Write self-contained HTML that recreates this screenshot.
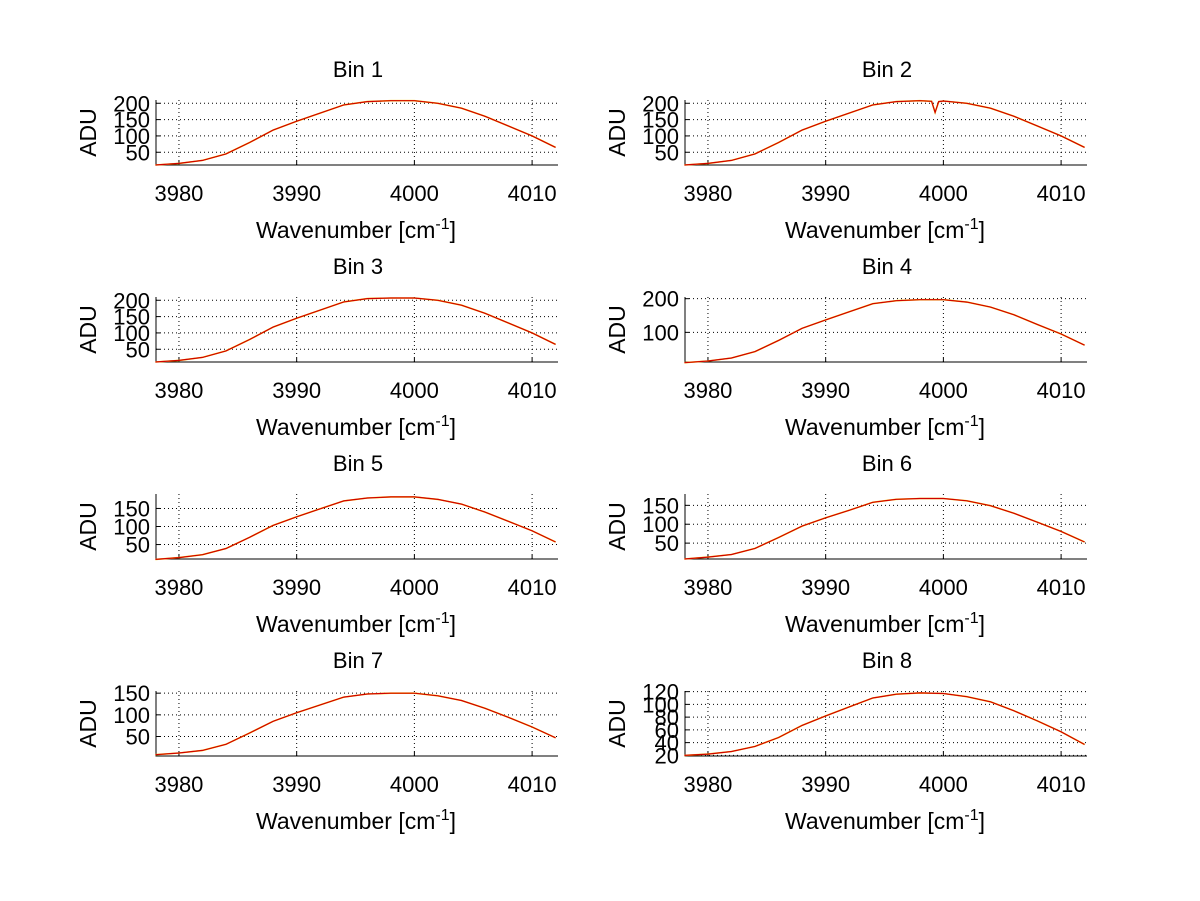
<!DOCTYPE html>
<html><head><meta charset="utf-8"><style>
body{margin:0;background:#fff}
svg{display:block;font-family:"Liberation Sans",Arial,sans-serif}
</style></head><body>
<svg id="fig" width="1200" height="901" viewBox="0 0 1200 901">
<rect width="1200" height="901" fill="#fff"/>
</svg>
<script>
const xs = [3978,3980,3982,3984,3986,3988,3990,3992,3994,3996,3998,4000,4002,4004,4006,4008,4010,4012];
const xs2 = [3978,3980,3982,3984,3986,3988,3990,3992,3994,3996,3998,3999,3999.3,3999.6,4000,4002,4004,4006,4008,4010,4012];
const bin1 = [11,16,25,45,80,118,145,170,195,205,208,208,200,185,160,130,100,65];
const bin2 = [11,16,25,45,80,118,145,170,195,205,208,206,172,205,207,200,185,160,130,100,65];
const bin3 = [11,16,25,45,80,118,145,170,195,205,207,207,200,185,160,130,100,65];
const bin4 = [10,15,24,43,76,112,137,161,185,194,197,197,190,175,152,123,95,62];
const bin5 = [9,14,22,39,70,103,127,149,171,179,182,182,175,162,140,114,88,57];
const bin6 = [8,13,20,36,65,95,117,137,158,166,168,168,162,149,129,105,81,53];
const bin7 = [8,12,18,32,58,85,105,123,141,148,150,150,144,133,115,94,72,47];
const bin8 = [20,22,26,34,48,67,82,96,110,116,118,117,112,104,90,74,57,37];
const xTicks = [3980,3990,4000,4010];
const titles = ["Bin 1","Bin 2","Bin 3","Bin 4","Bin 5","Bin 6","Bin 7","Bin 8"];
const yTicks = [[50,100,150,200],[50,100,150,200],[50,100,150,200],[100,200],[50,100,150],[50,100,150],[50,100,150],[20,40,60,80,100,120]];
const yLims = [[11,210],[11,210],[11,210],[12,205],[10,190],[8,180],[5,155],[19,121]];
const series = [bin1,bin2,bin3,bin4,bin5,bin6,bin7,bin8];
const seriesX = [xs,xs2,xs,xs,xs,xs,xs,xs];

const NS="http://www.w3.org/2000/svg";
const svg=document.getElementById('fig');
function mk(tag,attrs,parent){const e=document.createElementNS(NS,tag);for(const k in attrs)e.setAttribute(k,attrs[k]);(parent||svg).appendChild(e);return e;}
const X0=3978.05,X1=4012.2;
for(let i=0;i<8;i++){
  const col=i%2,row=Math.floor(i/2);
  const L=156+col*529,R=558+col*529,T=100+row*197,B=165+row*197;
  const g=mk('g',{});
  
  
  const sx=v=>L+(v-X0)/(X1-X0)*(R-L);
  const sy=v=>B-(v-yLims[i][0])/(yLims[i][1]-yLims[i][0])*(B-T);
  xTicks.forEach(t=>{
    const gl=mk('line',{x1:sx(t),x2:sx(t),y1:T,y2:B,stroke:'#000','stroke-width':1,'stroke-dasharray':'1,3'},g);
    
    
    mk('line',{x1:sx(t),x2:sx(t),y1:B,y2:B-4,stroke:'#000'},g);
    const lb=mk('text',{x:sx(t),y:B+36,'text-anchor':'middle','font-size':22},g);
    lb.textContent=t;
    
    
  });
  yTicks[i].forEach(t=>{
    const gl=mk('line',{x1:L,x2:R,y1:sy(t),y2:sy(t),stroke:'#000','stroke-width':1,'stroke-dasharray':'1,3'},g);
    
    
    mk('line',{x1:L,x2:L+4,y1:sy(t),y2:sy(t),stroke:'#000'},g);
    const lb=mk('text',{x:L-6,y:sy(t)+8,'text-anchor':'end','font-size':22},g);
    lb.textContent=t;
    
    
  });
  const ax=mk('path',{d:`M${L},${T}V${B}H${R}`,fill:'none',stroke:'#000','stroke-width':1},g);
  
  
  const d=seriesX[i].map((x,j)=>(j?'L':'M')+sx(x).toFixed(1)+','+sy(series[i][j]).toFixed(1)).join('');
  const y1=mk('path',{d:d,fill:'none',stroke:'#ffd000','stroke-width':1.6},g);
  
  
  const r1=mk('path',{d:d,fill:'none',stroke:'#d00000','stroke-width':1.2},g);
  
  
  const tt=mk('text',{x:(L+R)/2+1,y:T-23,'text-anchor':'middle','font-size':22},g);
  tt.textContent=titles[i];
  
  
  const xl=mk('text',{x:(L+R)/2-1,y:B+73,'text-anchor':'middle','font-size':23},g);
  xl.innerHTML='Wavenumber [cm<tspan dy="-9" font-size="16">-1</tspan><tspan dy="9">]</tspan>';
  
  
  const cy=(T+B)/2;
  const yl=mk('text',{x:L-68,y:cy,'text-anchor':'middle','font-size':23,transform:`rotate(-90 ${L-68} ${cy})`,dy:8},g);
  yl.textContent='ADU';
  
  
}
</script>
</body></html>
